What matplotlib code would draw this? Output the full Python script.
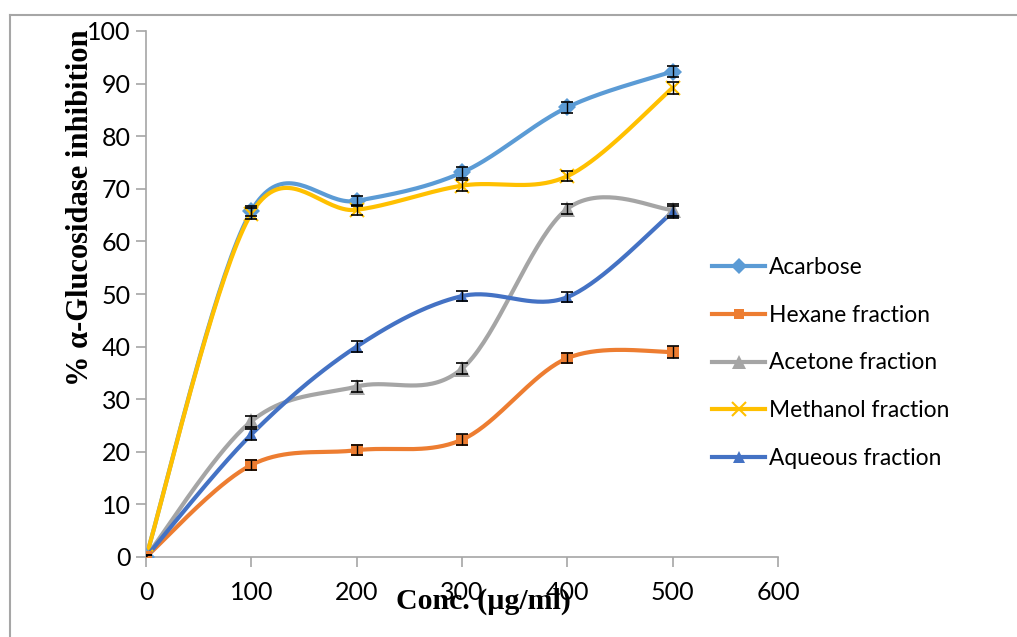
import numpy as np
import matplotlib
matplotlib.use("Agg")
import matplotlib.pyplot as plt
from matplotlib.lines import Line2D

conc = [0, 100, 200, 300, 400, 500]
acarbose = [0, 65.8, 67.7, 73.1, 85.5, 92.3]
hexane = [0, 17.5, 20.3, 22.3, 37.8, 39.0]
acetone = [0, 25.8, 32.4, 35.8, 66.2, 66.0]
methanol = [0, 65.3, 66.0, 70.6, 72.4, 89.2]
aqueous = [0, 23.3, 40.0, 49.6, 49.4, 65.6]
err = [0.4, 1.0, 1.0, 1.0, 1.0, 1.1]

series_names = ["Acarbose", "Hexane fraction", "Acetone fraction",
                "Methanol fraction", "Aqueous fraction"]
series_vals = [acarbose, hexane, acetone, methanol, aqueous]
colors = ["#5B9BD5", "#ED7D31", "#A5A5A5", "#FFC000", "#4472C4"]
markers = ["D", "s", "^", "x", "^"]
msizes = [9, 8, 11, 10, 9]


def smooth(xs, ys, n=40):
    xs = np.asarray(xs, float)
    ys = np.asarray(ys, float)
    P = np.column_stack([xs, ys])
    out = []
    m = len(P)
    for i in range(m - 1):
        p0 = P[i - 1] if i > 0 else P[i]
        p1 = P[i]
        p2 = P[i + 1]
        p3 = P[i + 2] if i + 2 < m else P[i + 1]
        c1 = p1 + (p2 - p0) / 6.0
        c2 = p2 - (p3 - p1) / 6.0
        t = np.linspace(0, 1, n)[:, None]
        seg = ((1 - t) ** 3) * p1 + 3 * ((1 - t) ** 2) * t * c1 + 3 * (1 - t) * t ** 2 * c2 + t ** 3 * p2
        if i > 0:
            seg = seg[1:]
        out.append(seg)
    out = np.vstack(out)
    return out[:, 0], out[:, 1]


W, H = 1017, 637
fig = plt.figure(figsize=(W / 100, H / 100), dpi=100)
ax = fig.add_axes([146 / W, (H - 557) / H, (778 - 146) / W, (557 - 31) / H])

tickfont = "Lato"
draw_order = [0, 3, 2, 4, 1]
for i in draw_order:
    sx, sy = smooth(conc, series_vals[i])
    ax.plot(sx, sy, color=colors[i], lw=3, zorder=2 + i * 0.1, solid_capstyle="round")
for i in draw_order:
    mk = markers[i]
    if mk == "x":
        ax.plot(conc, series_vals[i], ls="none", marker="x", ms=msizes[i],
                mew=1.5, color=colors[i], zorder=4)
    else:
        ax.plot(conc, series_vals[i], ls="none", marker=mk, ms=msizes[i],
                mew=0, color=colors[i], zorder=4)
    ax.errorbar(conc, series_vals[i], yerr=err, fmt="none", ecolor="black",
                elinewidth=1, capsize=4, capthick=1.2, zorder=5)

ax.set_xlim(0, 600)
ax.set_ylim(0, 100)
ax.set_xticks(range(0, 601, 100))
ax.set_yticks(range(0, 101, 10))
for s in ["top", "right"]:
    ax.spines[s].set_visible(False)
for s in ["left", "bottom"]:
    ax.spines[s].set_color("#A6A6A6")
    ax.spines[s].set_linewidth(1.2)
ax.tick_params(axis="both", colors="#A6A6A6", length=7, width=1.2,
               labelcolor="black", labelsize=18)
ax.tick_params(axis="x", pad=10)
ax.tick_params(axis="y", pad=4)
for lab in ax.get_xticklabels() + ax.get_yticklabels():
    lab.set_fontfamily(tickfont)

fig.text(81 / W, 1 - 208 / H, "% α-Glucosidase inhibition", rotation=90,
         ha="center", va="center", fontsize=22, fontweight="bold",
         family="Liberation Serif")
fig.text(483 / W, 1 - 601 / H, "Conc. (µg/ml)", ha="center", va="center",
         fontsize=21.5, fontweight="bold", family="Liberation Serif")

handles = []
for i in range(5):
    mk = markers[i]
    if mk == "x":
        h = Line2D([], [], color=colors[i], lw=3, marker="x", ms=10, mew=1.5)
    else:
        h = Line2D([], [], color=colors[i], lw=3, marker=mk, ms=msizes[i] - 1, mew=0)
    handles.append(h)
leg = fig.legend(handles, series_names, loc="center left",
                 bbox_to_anchor=(701 / W, 1 - 363 / H), frameon=False,
                 prop={"family": tickfont, "size": 16.4}, labelspacing=1.18,
                 handlelength=2.3, handletextpad=0.2, borderpad=0)

fig.add_artist(Line2D([10 / W, 1], [1 - 14.5 / H, 1 - 14.5 / H],
                      color="#A6A6A6", lw=1.5, transform=fig.transFigure))
fig.add_artist(Line2D([10 / W, 10 / W], [0, 1 - 14.5 / H],
                      color="#A6A6A6", lw=1.5, transform=fig.transFigure))

fig.savefig("out.png", dpi=100)
